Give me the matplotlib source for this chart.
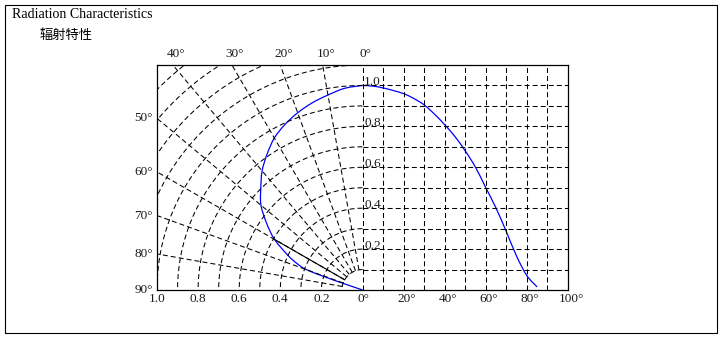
import numpy as np
import matplotlib.pyplot as plt
from matplotlib.patches import Rectangle, PathPatch
from matplotlib.path import Path
from matplotlib.transforms import blended_transform_factory, offset_copy

plt.rcParams['lines.scale_dashes'] = False

# right half: relative intensity against angle (x axis in degrees)
curve_angle = [0, 5, 10, 15, 20, 25, 30, 35, 40, 45, 50, 55, 60, 65, 70, 75, 80, 85]
curve_level = [1.0, 0.997, 0.988, 0.975, 0.96, 0.936, 0.905, 0.86, 0.808, 0.75,
               0.68, 0.60, 0.50, 0.40, 0.285, 0.165, 0.07, 0.015]

# left half: the same pattern drawn in polar form (angle from vertical)
polar_angle = [0, 5, 10, 15, 20, 25, 30, 35, 40, 45, 50, 55, 60, 65, 68, 70, 70.7, 71, 72]
polar_level = [1.0, 0.99, 0.968, 0.947, 0.922, 0.893, 0.858, 0.81, 0.76, 0.70, 0.645,
               0.57, 0.494, 0.40, 0.342, 0.29, 0.19, 0.10, 0.0]
half_angle = 60

arc_radii = [0.1 * k for k in range(1, 15)]
spoke_angles = [10, 20, 30, 40, 50, 60, 70, 80]
top_angles = [40, 30, 20, 10, 0]
side_angles = [50, 60, 70, 80, 90]
bottom_radii = [1.0, 0.8, 0.6, 0.4, 0.2]
bottom_degrees = [0, 20, 40, 60, 80, 100]
grid_degrees = [10, 20, 30, 40, 50, 60, 70, 80, 90]
grid_levels = [0.1 * k for k in range(1, 11)]
level_labels = [1.0, 0.8, 0.6, 0.4, 0.2]

serif = ['Liberation Serif', 'DejaVu Serif']
ink = '#1a1a1a'
dash = (0, (3.6, 2.2))
lw = 0.75


def smooth_path(x, y):
    # Catmull-Rom through the points, handed to matplotlib as cubic Beziers
    p = np.column_stack([x, y]).astype(float)
    ext = np.vstack([p[0], p, p[-1]])
    verts = [p[0]]
    codes = [Path.MOVETO]
    for i in range(1, len(ext) - 2):
        c1 = ext[i] + (ext[i + 1] - ext[i - 1]) / 6
        c2 = ext[i + 1] - (ext[i + 2] - ext[i]) / 6
        verts += [c1, c2, ext[i + 1]]
        codes += [Path.CURVE4] * 3
    return Path(verts, codes)


fig = plt.figure(figsize=(7.21, 3.42), dpi=100)
fig.patches.append(Rectangle((5 / 721, 9 / 342), 712 / 721, 328 / 342,
                             transform=fig.transFigure, fill=False,
                             edgecolor='black', linewidth=0.8))
fig.text(12 / 721, 1 - 14 / 342, 'Radiation Characteristics', family=serif,
         fontsize=10, va='center', ha='left', color='black')
fig.text(40 / 721, 1 - 35 / 342, '辐射特性', family=['Noto Sans CJK SC', 'DejaVu Sans'],
         fontsize=9.5, va='center', ha='left', color='black')

ax = fig.add_axes([157 / 721, 52 / 342, 411 / 721, 225 / 342])
ax.set_xlim(-1, 1)
ax.set_ylim(0, 1.1)
ax.set_xticks([])
ax.set_yticks([])
for s in ax.spines.values():
    s.set_linewidth(0.9)
    s.set_color('black')

# polar grid on the left
t = np.radians(np.linspace(0, 90, 200))
for r in arc_radii:
    ax.plot(-r * np.sin(t), r * np.cos(t), color='black', lw=lw, linestyle=dash)
for a in spoke_angles:
    th = np.radians(a)
    ax.plot([-0.1 * np.sin(th), -2 * np.sin(th)], [0.1 * np.cos(th), 2 * np.cos(th)],
            color='black', lw=lw, linestyle=dash)
ax.plot([0, 0], [0, 1.1], color='black', lw=lw, linestyle=dash)

# cartesian grid on the right
for d in grid_degrees:
    ax.plot([d / 100, d / 100], [0, 1.1], color='black', lw=lw, linestyle=dash)
for v in grid_levels:
    ax.plot([0, 1], [v, v], color='black', lw=lw, linestyle=dash)

# curves
pa = np.radians(polar_angle)
pr = np.array(polar_level)
ax.add_patch(PathPatch(smooth_path(-pr * np.sin(pa), pr * np.cos(pa)),
                       fill=False, edgecolor='#0000ff', lw=0.9))
ax.add_patch(PathPatch(smooth_path(np.array(curve_angle) / 100, curve_level),
                       fill=False, edgecolor='#0000ff', lw=0.9))
h = np.radians(half_angle)
hr = np.interp(half_angle, polar_angle, polar_level)
ax.plot([-0.1 * np.sin(h), -hr * np.sin(h)], [0.1 * np.cos(h), hr * np.cos(h)],
        color='black', lw=0.8)

# labels
fs = 9.5
bx = blended_transform_factory(ax.transData, ax.transAxes)
for v in level_labels:
    ax.text(0.008, v, f'{v:.1f}', family=serif, fontsize=fs, color=ink,
            ha='left', va='baseline')
for r in bottom_radii:
    ax.text(-r, 0, f'{r:.1f}', family=serif, fontsize=fs, color=ink, ha='center',
            va='center', transform=offset_copy(bx, fig, x=0, y=-9, units='dots'))
for d in bottom_degrees:
    ax.text(d / 100, 0, f'{d}°', family=serif, fontsize=fs, color=ink, ha='center',
            va='center', transform=offset_copy(bx, fig, x=3 if d else 1, y=-9, units='dots'))
for a in top_angles:
    ax.text(-1.1 * np.tan(np.radians(a)), 1, f'{a}°', family=serif, fontsize=fs,
            color=ink, ha='center', va='center',
            transform=offset_copy(bx, fig, x=3, y=11, units='dots'))
for a in side_angles:
    ax.text(-1, 1 / np.tan(np.radians(a)), f'{a}°', family=serif, fontsize=fs,
            color=ink, ha='right', va='center',
            transform=offset_copy(ax.transData, fig, x=-4, y=0, units='dots'))

fig.savefig('out.png', dpi=100)
